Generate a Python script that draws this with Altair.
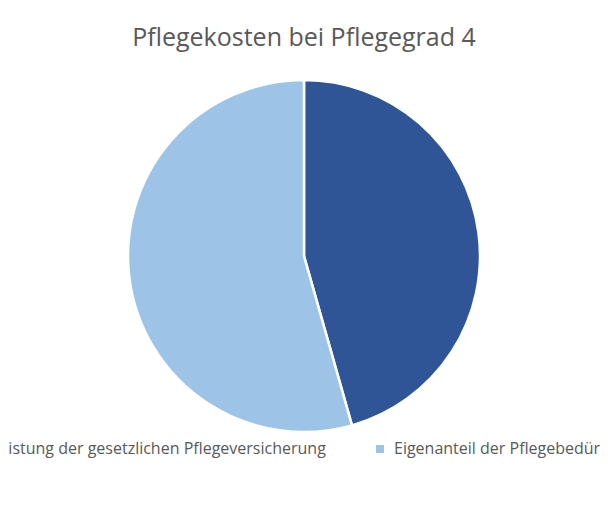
import altair as alt
import pandas as pd

categories = ["Leistung der gesetzlichen Pflegeversicherung", "Eigenanteil der Pflegebedürftigen"]
values = [1775, 2117]
colors = ["#2F5597", "#9DC3E6"]

df = pd.DataFrame({"kategorie": categories, "wert": values, "ordnung": [0, 1]})

chart = alt.Chart(df).mark_arc(radius=176, stroke="white", strokeWidth=2.5).encode(
    theta=alt.Theta("wert:Q", stack=True),
    order=alt.Order("ordnung:Q"),
    x=alt.value(296),
    y=alt.value(248),
    color=alt.Color(
        "kategorie:N",
        sort=categories,
        scale=alt.Scale(domain=categories, range=colors),
        legend=alt.Legend(
            title=None,
            orient="none",
            legendX=-39,
            legendY=433,
            direction="horizontal",
            symbolType="square",
            symbolSize=64,
            symbolStrokeWidth=0,
            labelFont="Open Sans",
            labelFontSize=16,
            labelColor="#595959",
            labelLimit=1000,
            columnPadding=46,
            labelOffset=6,
        ),
    ),
).properties(
    width=592,
    height=485,
    padding=0,
    autosize=alt.AutoSizeParams(type="none"),
    title=alt.TitleParams(
        "Pflegekosten bei Pflegegrad 4",
        font="Open Sans",
        fontSize=25,
        fontWeight="normal",
        color="#595959",
        anchor="middle",
        frame="group",
        orient="top",
        baseline="alphabetic",
        offset=-63,
    ),
).configure_view(stroke=None)

chart.save("out.html", embed_options={"renderer": "svg", "actions": False})
